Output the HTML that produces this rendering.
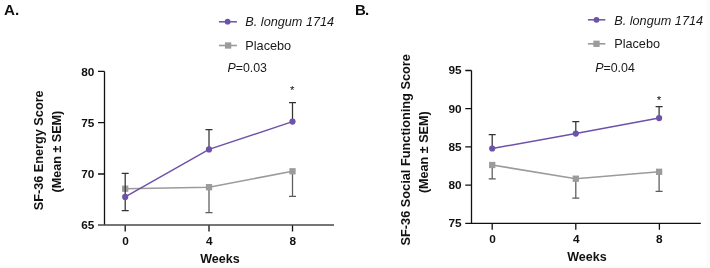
<!DOCTYPE html>
<html><head><meta charset="utf-8">
<style>
html,body{margin:0;padding:0;background:#fff;width:710px;height:268px;overflow:hidden}
svg{display:block;will-change:transform}
text{font-family:"Liberation Sans",sans-serif;fill:#111}
.b{font-weight:bold}
.t{font-weight:bold;font-size:11.8px}
.lg{font-size:12.7px;fill:#1a1a1a}
.ax{stroke:#111;stroke-width:1.3;fill:none}
.ebp{stroke:#333;stroke-width:1.25;fill:none}
.ebg{stroke:#5c5c5c;stroke-width:1.25;fill:none}
.pl{stroke:#6e51a9;stroke-width:1.5;fill:none}
.gl{stroke:#9b9b9b;stroke-width:1.6;fill:none}
.pm{fill:#6e51a9}
.gm{fill:#9b9b9b}
</style></head><body>
<svg width="710" height="268" viewBox="0 0 710 268">
<rect x="0" y="0" width="710" height="268" fill="#fff"/>
<rect x="706.5" y="0" width="3.5" height="268" fill="#fbfbfb"/>
<rect x="0" y="266" width="710" height="2" fill="#fbfbfb"/>

<!-- ================= PANEL A ================= -->
<text class="b" x="4.1" y="15.1" font-size="15.2">A.</text>

<!-- legend -->
<line class="pl" x1="218.9" y1="21.8" x2="236.9" y2="21.8"/>
<circle class="pm" cx="227.6" cy="21.7" r="2.9"/>
<text class="lg" x="245.3" y="25.9" font-style="italic">B. longum 1714</text>
<line class="gl" x1="218.9" y1="45.5" x2="236.9" y2="45.5"/>
<rect class="gm" x="224.95" y="42.35" width="6.3" height="6.3"/>
<text class="lg" x="245.3" y="49.7">Placebo</text>
<text class="lg" x="227.4" y="71.8" style="font-size:12.4px"><tspan font-style="italic">P</tspan>=0.03</text>

<!-- axes -->
<path class="ax" d="M104.5 71.4 V225 M98 71.4 H104.5 M98 122.7 H104.5 M98 174 H104.5 M125.2 225 V231.4 M209 225 V231.4 M292.5 225 V231.4"/>
<path d="M98 225 H334" stroke="#484848" stroke-width="1.6" fill="none"/>
<text class="t" x="94.3" y="75.6" text-anchor="end">80</text>
<text class="t" x="94.3" y="126.8" text-anchor="end">75</text>
<text class="t" x="94.3" y="178.1" text-anchor="end">70</text>
<text class="t" x="94.3" y="229.2" text-anchor="end">65</text>
<text class="t" x="125.6" y="244.6" text-anchor="middle">0</text>
<text class="t" x="209.2" y="244.6" text-anchor="middle">4</text>
<text class="t" x="292.8" y="244.6" text-anchor="middle">8</text>
<text class="b" x="220" y="262.5" font-size="12.5" text-anchor="middle">Weeks</text>
<text class="b" font-size="12.7" text-anchor="middle" transform="translate(43.3 150.3) rotate(-90)">SF-36 Energy Score</text>
<text class="b" font-size="12.6" text-anchor="middle" transform="translate(61.3 151.6) rotate(-90)">(Mean ± SEM)</text>

<!-- error bars -->
<path class="ebg" d="M209 187.2 V212.5 M205.5 212.5 H212.5
 M292.5 171.3 V196.3 M289 196.3 H296"/>
<!-- lines -->
<polyline class="gl" points="125.2,188.7 209,187.2 292.5,171.3"/>
<rect class="gm" x="122.05" y="185.55" width="6.3" height="6.3"/>
<rect class="gm" x="205.85" y="184.05" width="6.3" height="6.3"/>
<rect class="gm" x="289.35" y="168.15" width="6.3" height="6.3"/>
<path class="ebp" d="M125.2 173.4 V210.5 M121.7 173.4 H128.7 M121.7 210.5 H128.7
 M209 129.7 V149.4 M205.5 129.7 H212.5
 M292.5 102.6 V121.6 M289 102.6 H296"/>
<polyline class="pl" points="125.2,196.9 209,149.4 292.5,121.6"/>
<circle class="pm" cx="125.2" cy="196.9" r="3.1"/>
<circle class="pm" cx="209" cy="149.4" r="3.1"/>
<circle class="pm" cx="292.5" cy="121.6" r="3.1"/>
<text x="292.3" y="93.7" font-size="11.5" text-anchor="middle">*</text>

<!-- ================= PANEL B ================= -->
<text class="b" x="355.1" y="15.1" font-size="15">B<tspan dx="-1">.</tspan></text>

<line class="pl" x1="587.9" y1="19.8" x2="605.3" y2="19.8"/>
<circle class="pm" cx="596.5" cy="19.8" r="2.9"/>
<text class="lg" x="614.2" y="24.6" font-style="italic">B. longum 1714</text>
<line class="gl" x1="587.9" y1="43.8" x2="605.3" y2="43.8"/>
<rect class="gm" x="593.35" y="40.65" width="6.3" height="6.3"/>
<text class="lg" x="614.2" y="47.5">Placebo</text>
<text class="lg" x="595.2" y="71.8" style="font-size:12.4px"><tspan font-style="italic">P</tspan>=0.04</text>

<path class="ax" d="M471.5 70.5 V223.3 M465.3 70.5 H471.5 M465.3 108.7 H471.5 M465.3 146.9 H471.5 M465.3 185.1 H471.5 M465.3 223.3 H700.8 M492.2 223.3 V229.8 M575.8 223.3 V229.8 M659.4 223.3 V229.8"/>
<text class="t" x="461.7" y="74.3" text-anchor="end">95</text>
<text class="t" x="461.7" y="112.5" text-anchor="end">90</text>
<text class="t" x="461.7" y="150.7" text-anchor="end">85</text>
<text class="t" x="461.7" y="188.9" text-anchor="end">80</text>
<text class="t" x="461.7" y="227.1" text-anchor="end">75</text>
<text class="t" x="492.6" y="242.9" text-anchor="middle">0</text>
<text class="t" x="576.2" y="242.9" text-anchor="middle">4</text>
<text class="t" x="659.4" y="242.9" text-anchor="middle">8</text>
<text class="b" x="586.9" y="260.9" font-size="12.5" text-anchor="middle">Weeks</text>
<text class="b" font-size="12.75" text-anchor="middle" transform="translate(409.6 149.8) rotate(-90)">SF-36 Social Functioning Score</text>
<text class="b" font-size="12.6" text-anchor="middle" transform="translate(427.8 152.2) rotate(-90)">(Mean ± SEM)</text>

<path class="ebg" d="M492.2 165 V178.9 M488.7 178.9 H495.7
 M575.8 178.7 V198.1 M572.3 198.1 H579.3
 M659.1 171.8 V191.3 M655.6 191.3 H662.6"/>
<polyline class="gl" points="492.2,165 575.8,178.7 659.1,171.8"/>
<rect class="gm" x="489.05" y="161.85" width="6.3" height="6.3"/>
<rect class="gm" x="572.65" y="175.55" width="6.3" height="6.3"/>
<rect class="gm" x="655.95" y="168.65" width="6.3" height="6.3"/>
<path class="ebp" d="M492.2 134.7 V148.5 M488.7 134.7 H495.7
 M575.8 121.5 V133.6 M572.3 121.5 H579.3
 M659.1 106.6 V118.1 M655.6 106.6 H662.6"/>
<polyline class="pl" points="492.2,148.5 575.8,133.6 659.1,118.1"/>
<circle class="pm" cx="492.2" cy="148.5" r="3.1"/>
<circle class="pm" cx="575.8" cy="133.6" r="3.1"/>
<circle class="pm" cx="659.1" cy="118.1" r="3.1"/>
<text x="659" y="103.5" font-size="11.5" text-anchor="middle">*</text>
</svg>
</body></html>
